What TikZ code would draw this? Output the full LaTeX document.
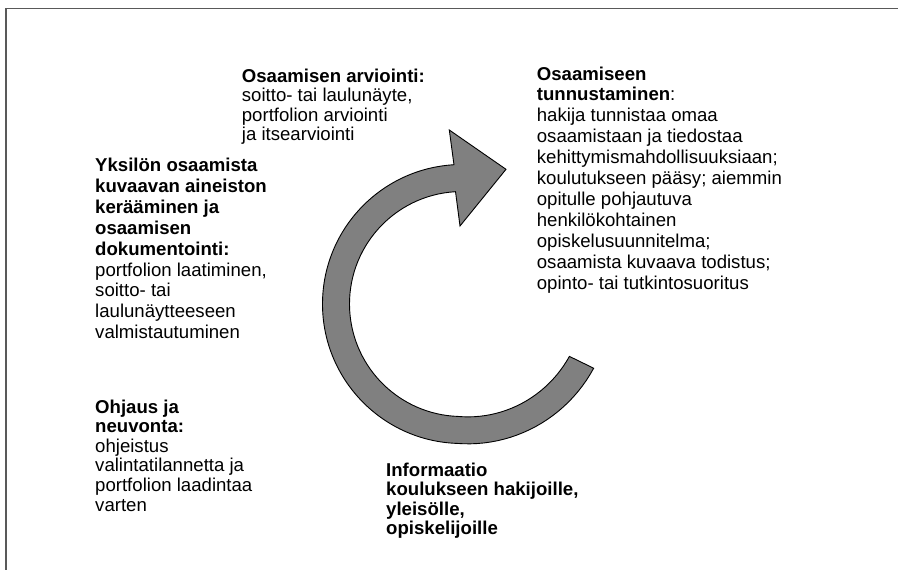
\documentclass[tikz,border=0pt]{standalone}
\usepackage{fontspec}
\setmainfont{Liberation Sans}
\begin{document}
\begin{tikzpicture}[x=1pt,y=1pt,
  frame/.style={draw=black!65, line width=1.5pt},
  cyclearrow/.style={fill=black!50, draw=black, line width=0.9pt, line join=miter},
  blocktext/.style={anchor=base west, inner sep=0pt, align=left,
    font=\fontsize{18.6}{20.9}\selectfont},
  tightblock/.style={blocktext, font=\fontsize{18.6}{19.6}\selectfont}]
\useasboundingbox (0,0) rectangle (898,-570);

% page frame: top and left edges
\draw[frame] (6,-571) -- (6,-8.5) -- (899,-8.5);

% circular process arrow (clockwise, head at the top pointing right)
\begin{scope}[shift={(462,-304)}]
  \filldraw[cyclearrow]
    plot[domain=-26:-92, samples=25, variable=\t] (\t:{139.5+7*(\t+92)/66})
    arc[start angle=-92, end angle=-266.7, radius=139.5]
    -- (-12.7,174) -- (44,134.7) -- (-2,78)
    -- (93.3:112.5)
    arc[start angle=93.3, end angle=268, radius=112.5]
    -- plot[domain=268:334, samples=25, variable=\t] (\t:{112.5+7*(\t-268)/66})
    -- cycle;
\end{scope}

% text blocks around the cycle (each placed by the baseline of its last line)
\node[tightblock] (assess) at (241.7,-140.8)
  {\textbf{Osaamisen arviointi:}\\soitto- tai laulunäyte,\\portfolion arviointi\\ja itsearviointi};

\node[blocktext] (recognition) at (536.7,-289)
  {\textbf{Osaamiseen}\\\textbf{tunnustaminen}:\\hakija tunnistaa omaa\\osaamistaan ja tiedostaa\\kehittymismahdollisuuksiaan;\\koulutukseen pääsy; aiemmin\\opitulle pohjautuva\\henkilökohtainen\\opiskelusuunnitelma;\\osaamista kuvaava todistus;\\opinto- tai tutkintosuoritus};

\node[blocktext] (collect) at (95,-338.7)
  {\textbf{Yksilön osaamista}\\\textbf{kuvaavan aineiston}\\\textbf{kerääminen ja}\\\textbf{osaamisen}\\\textbf{dokumentointi:}\\portfolion laatiminen,\\soitto- tai\\laulunäytteeseen\\valmistautuminen};

\node[tightblock] (guidance) at (95,-511)
  {\textbf{Ohjaus ja}\\\textbf{neuvonta:}\\ohjeistus\\valintatilannetta ja\\portfolion laadintaa\\varten};

\node[tightblock] (info) at (386,-534.8)
  {\textbf{Informaatio}\\\textbf{koulukseen hakijoille,}\\\textbf{yleisölle,}\\\textbf{opiskelijoille}};
\end{tikzpicture}
\end{document}
